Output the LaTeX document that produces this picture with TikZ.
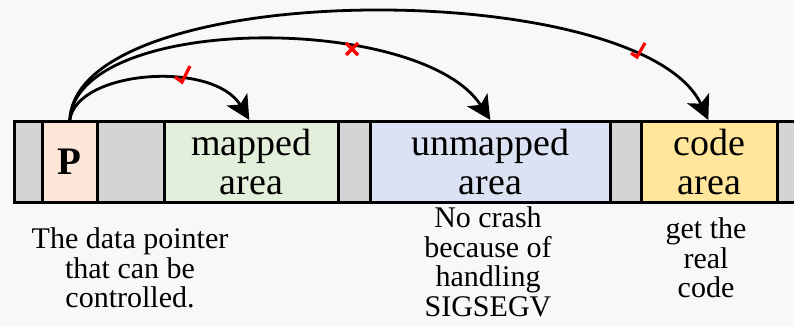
\documentclass[tikz,border=0pt]{standalone}
\usepackage{fontspec}
\setmainfont{Liberation Serif}
\usetikzlibrary{arrows.meta}
\definecolor{bgc}{HTML}{F8F8F8}
\definecolor{padc}{HTML}{D4D4D4}
\definecolor{ptrc}{HTML}{FCE6D7}
\definecolor{mapc}{HTML}{E2EFDA}
\definecolor{unmapc}{HTML}{DAE2F3}
\definecolor{codec}{HTML}{FFE69A}
\definecolor{markc}{HTML}{FF0000}
\begin{document}
\begin{tikzpicture}[x=1pt,y=-1pt,
  cell/.style={draw=black, line width=2.6pt, minimum height=81pt, inner sep=0pt, anchor=north west},
  celltext/.style={font=\fontsize{38}{39}\selectfont, align=center},
  note/.style={font=\fontsize{30}{29.5}\selectfont, align=center},
  jump/.style={line width=2.8pt, -{Stealth[length=24pt,width=24pt,inset=6pt]}},
  tick/.style={draw=markc, line width=3.2pt}]
  \fill[bgc] (0,0) rectangle (794,327);
  \useasboundingbox (0,0) rectangle (794,327);
  \begin{scope}
    \clip (0,0) rectangle (794,327);
    % memory strip
    \node[cell, fill=padc, minimum width=28pt] (g1) at (13,120) {};
    \node[cell, fill=ptrc, minimum width=55pt, font=\fontsize{39}{39}\selectfont\bfseries] (P) at (41,120) {P};
    \node[cell, fill=padc, minimum width=67pt] (g2) at (96,120) {};
    \node[cell, fill=mapc, minimum width=174pt, celltext] (map) at (163,120) {mapped\\area};
    \node[cell, fill=padc, minimum width=32pt] (g3) at (337,120) {};
    \node[cell, fill=unmapc, minimum width=240pt, celltext] (unmap) at (369,120) {unmapped\\area};
    \node[cell, fill=padc, minimum width=31pt] (g4) at (609,120) {};
    \node[cell, fill=codec, minimum width=136pt, celltext] (code) at (640,120) {code\\area};
    \node[cell, fill=padc, minimum width=40pt] (g5) at (776,120) {};
  \end{scope}
  % captions
  \node[note] (capP) at (130,268) {The data pointer\\that can be\\controlled.};
  \node[note] (capU) at (488,262) {No crash\\because of\\handling\\SIGSEGV};
  \node[note] (capC) at (706,258) {get the\\real\\code};
  % jumps from the pointer
  \draw[jump] (P.north) .. controls +(7,-50) and +(-36,-60) .. ([xshift=-2pt]map.north);
  \draw[jump] (P.north) .. controls +(7,-107) and +(-69,-107) .. (unmap.north);
  \draw[jump] (P.north) .. controls +(7,-144) and +(-67,-144) .. ([xshift=-1pt]code.north);
  % outcome marks
  \draw[tick] (175,77) -- (182,82) -- (190,66);
  \draw[tick] (346,43) -- (358,55) (346,55) -- (358,43);
  \draw[tick] (631,53) -- (637,57) -- (645,43);
\end{tikzpicture}
\end{document}
